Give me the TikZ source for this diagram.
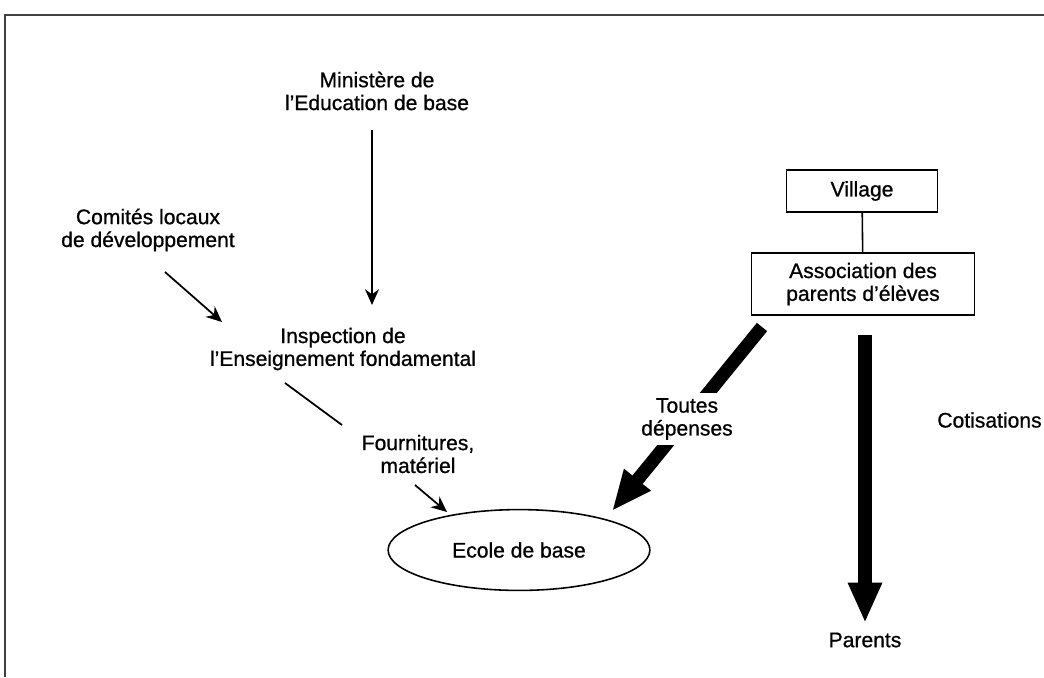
\documentclass[tikz,border=0pt]{standalone}
\usepackage{fontspec}
\setmainfont{Liberation Sans}[FakeBold=0.8]
\usetikzlibrary{arrows.meta,shapes.geometric}

\tikzset{
  lbl/.style={align=center, font=\fontsize{12}{13}\selectfont},
  boite/.style={lbl, draw, line width=0.9pt},
  thinarrow/.style={-{Stealth[length=9pt,width=8pt]}, line width=1pt},
  bigarrow/.style={-{Triangle[length=23pt,width=18pt]}, line width=7.5pt},
}

\begin{document}
\begin{tikzpicture}[x=0.02cm, y=-0.02cm]
\useasboundingbox (0,0) rectangle (1044,677);
% cadre
\draw[black!75, line width=0.8pt] (1044,15) -- (5,15) -- (5,677);

% noeuds
\node[lbl] (min) at (377,91) {Ministère de\\l'Education de base};
\node[lbl] (cld) at (148,230) {Comités locaux\\de développement};
\node[lbl] (insp) at (343,349) {Inspection de\\l'Enseignement fondamental};
\node[lbl] (fourn) at (418,454) {Fournitures,\\matériel};
\node[lbl, draw, ellipse, line width=0.9pt, minimum width=149pt, minimum height=46pt] (ecole) at (519,550) {Ecole de base};
\node[boite, minimum width=86pt, minimum height=24pt] (village) at (862,191) {Village};
\node[boite, minimum width=127pt, minimum height=35pt] (ape) at (863,284) {Association des\\parents d'élèves};
\node[lbl] (parents) at (865,640) {Parents};
\node[lbl, anchor=west, inner sep=0pt] (cotis) at (937,420) {Cotisations};

% liaisons
\coordinate (m1) at (372,130);
\coordinate (m2) at (372,305);
\coordinate (c1) at (165,272);
\coordinate (c2) at (222,322);
\coordinate (i1) at (285,383);
\coordinate (i2) at (342,425);
\coordinate (f1) at (415,485);
\coordinate (f2) at (447,512);
\coordinate (d1) at (762,327);
\coordinate (d2) at (612,511);
\draw[thinarrow] (m1) -- (m2);
\draw[thinarrow] (c1) -- (c2);
\draw[line width=1pt] (i1) -- (i2);
\draw[thinarrow] (f1) -- (f2);
\draw[line width=0.9pt] (village) -- (ape);
\draw[bigarrow] (d1) -- node[lbl, fill=white, inner sep=3pt] (dep) {Toutes\\dépenses} (d2);
\draw[bigarrow, shorten <=11pt, shorten >=2pt] (ape.south -| parents) -- (parents.north);
\end{tikzpicture}
\end{document}
